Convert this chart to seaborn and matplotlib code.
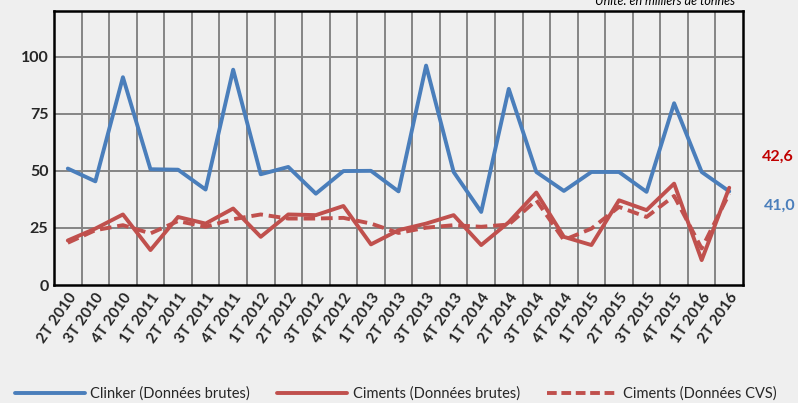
import numpy as np
import pandas as pd
import matplotlib
matplotlib.use("Agg")
import matplotlib.pyplot as plt
import seaborn as sns
from matplotlib.lines import Line2D

quarters = ["2T 2010", "3T 2010", "4T 2010", "1T 2011", "2T 2011", "3T 2011", "4T 2011",
            "1T 2012", "2T 2012", "3T 2012", "4T 2012", "1T 2013", "2T 2013", "3T 2013",
            "4T 2013", "1T 2014", "2T 2014", "3T 2014", "4T 2014", "1T 2015", "2T 2015",
            "3T 2015", "4T 2015", "1T 2016", "2T 2016"]
clinker_brut = [51.0, 45.4, 91.0, 50.7, 50.5, 41.8, 94.3, 48.5, 51.7, 40.0, 49.9, 50.0, 41.0,
                96.1, 49.5, 32.0, 85.9, 49.5, 41.2, 49.5, 49.5, 40.8, 79.6, 49.5, 41.0]
ciments_brut = [19.5, 24.7, 30.9, 15.3, 29.8, 26.9, 33.5, 21.1, 30.9, 30.6, 34.6, 17.8, 24.0,
                26.9, 30.6, 17.5, 27.5, 40.5, 21.1, 17.5, 37.1, 32.8, 44.4, 10.9, 42.6]
ciments_cvs = [18.5, 24.0, 26.2, 22.6, 28.0, 25.5, 28.8, 30.9, 29.1, 29.1, 29.4, 26.9, 22.8,
               25.1, 26.2, 25.5, 26.5, 37.1, 19.7, 24.7, 34.2, 29.8, 39.0, 16.0, 40.0]
yticks = [0, 25, 50, 75, 100]
series_names = ["Clinker (Données brutes)", "Ciments (Données brutes)", "Ciments (Données CVS)"]

BLUE = "#4A7EBB"
RED = "#C0504D"
BG = "#EFEFEF"

sns.set_theme(style="white")
plt.rcParams["font.family"] = ["Lato", "DejaVu Sans"]

fig = plt.figure(figsize=(7.98, 4.03), dpi=100, facecolor=BG)
ax = fig.add_axes([0.0677, 0.2928, 0.8634, 0.6799])
ax.set_facecolor(BG)

x = np.arange(len(quarters))
df = pd.DataFrame({"x": x, "clinker": clinker_brut, "brut": ciments_brut, "cvs": ciments_cvs})

# grid
for v in yticks[1:]:
    ax.axhline(v, color="#858585", lw=1.4, zorder=1)
for k in range(len(quarters) - 1):
    ax.axvline(k + 0.5, color="#858585", lw=1.4, zorder=1)

sns.lineplot(data=df, x="x", y="clinker", ax=ax, color=BLUE, lw=2.8, zorder=3)
sns.lineplot(data=df, x="x", y="cvs", ax=ax, color=RED, lw=2.8, zorder=3,
             linestyle=(0, (3, 1.5)))
sns.lineplot(data=df, x="x", y="brut", ax=ax, color=RED, lw=2.8, zorder=4)

ax.set_xlim(-0.5, len(quarters) - 0.5)
ax.set_ylim(0, 120)
ax.set_yticks(yticks)
ax.set_yticklabels([str(t) for t in yticks], fontsize=11.5, fontweight="bold")
ax.set_xticks(x)
ax.set_xticklabels(quarters, rotation=55, ha="right", rotation_mode="anchor",
                   fontsize=11, fontweight="bold")
ax.tick_params(axis="both", length=0, pad=4)
ax.set_xlabel("")
ax.set_ylabel("")
for s in ax.spines.values():
    s.set_color("black")
    s.set_linewidth(1.8)
    s.set_visible(True)

# end labels
fig.text(762 / 798, 1 - 157 / 403, "42,6", color="#C00000", fontsize=11.5,
         fontweight="bold", ha="left", va="center")
fig.text(764 / 798, 1 - 206 / 403, "41,0", color=BLUE, fontsize=11.5,
         fontweight="bold", ha="left", va="center")

fig.text(735 / 798, 1 - 1 / 403, "Unité: en milliers de tonnes", fontsize=9,
         style="italic", ha="right", va="center", color="black")

handles = [Line2D([], [], color=BLUE, lw=2.8),
           Line2D([], [], color=RED, lw=2.8),
           Line2D([], [], color=RED, lw=2.8, linestyle=(0, (2.5, 1.2)))]
fig.legend(handles, series_names, loc="center", bbox_to_anchor=(0.4956, 1 - 394 / 403),
           ncol=3, frameon=False, fontsize=10.5, handlelength=4.8, columnspacing=1.85,
           handletextpad=0.4, borderpad=0, borderaxespad=0)

fig.savefig("out.png", dpi=100, facecolor=BG)
